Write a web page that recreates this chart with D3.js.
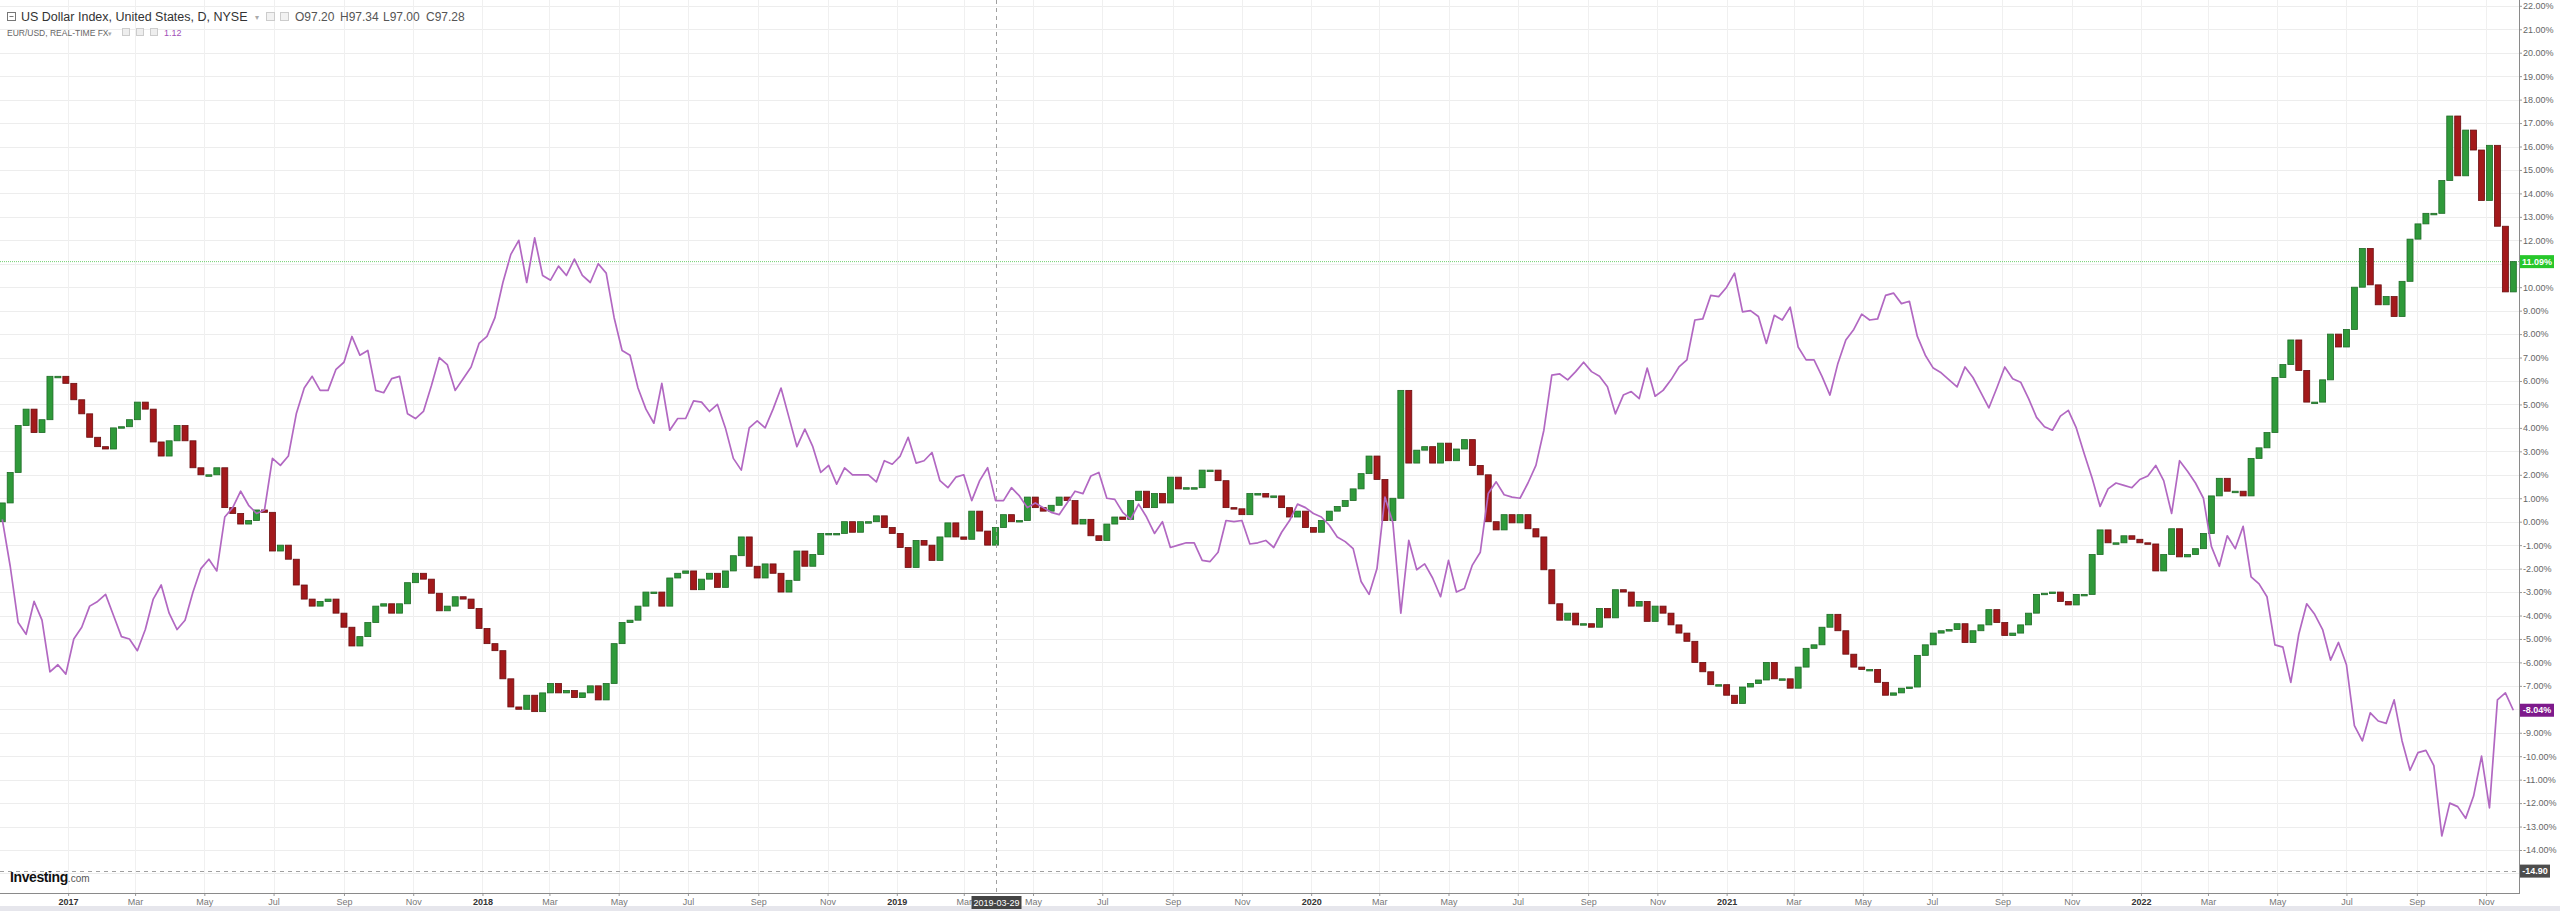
<!DOCTYPE html>
<html><head><meta charset="utf-8">
<script src="https://cdn.jsdelivr.net/npm/d3@7"></script>
<style>html,body{margin:0;padding:0;background:#fff;overflow:hidden}svg{display:block}</style>
</head><body>
<svg id="chart" width="2560" height="911"></svg>
<script>
// ---------------- DATA (weekly, % change from start) ----------------
const startDate = "2016-11-04";   // first weekly sample
const stepDays = 7;

const eurusdPct = [
 0.1,-1.9,-4.3,-4.8,-3.4,-4.2,-6.4,-6.1,-6.5,-5.0,
 -4.5,-3.6,-3.4,-3.1,-4.0,-4.9,-5.0,-5.5,-4.6,-3.3,
 -2.7,-3.9,-4.6,-4.2,-3.0,-2.0,-1.6,-2.1,0.2,0.6,
 1.3,0.7,0.35,0.5,2.7,2.4,2.8,4.6,5.7,6.2,
 5.6,5.6,6.5,6.8,7.9,7.1,7.3,5.6,5.5,6.1,
 6.2,4.6,4.4,4.7,5.8,7.0,6.7,5.6,6.1,6.6,
 7.6,7.9,8.7,10.2,11.4,12.0,10.2,12.1,10.5,10.3,
 10.9,10.5,11.2,10.5,10.2,11.0,10.6,8.7,7.3,7.1,
 5.7,4.8,4.2,5.9,3.9,4.4,4.4,5.15,5.1,4.7,
 5.0,4.0,2.7,2.2,4.0,4.3,4.0,4.8,5.7,4.45,
 3.2,3.95,3.2,2.1,2.4,1.6,2.3,2.0,2.0,2.0,
 1.7,2.6,2.45,2.8,3.6,2.5,2.6,2.95,1.75,1.45,
 1.9,2.0,0.9,1.75,2.3,0.9,0.9,1.45,1.1,0.6,
 0.8,0.6,0.4,0.3,0.8,1.3,1.2,1.95,2.1,1.0,
 0.95,0.4,0.1,0.75,0.2,-0.5,0.0,-1.1,-1.0,-0.9,
 -0.9,-1.65,-1.7,-1.3,0.05,0.0,0.05,-0.95,-0.9,-0.8,
 -1.1,-0.45,0.05,0.75,0.6,0.35,0.2,-0.15,-0.65,-0.85,
 -1.15,-2.55,-3.1,-2.0,1.05,-0.05,-3.9,-0.8,-2.05,-1.8,
 -2.4,-3.2,-1.65,-3.0,-2.85,-1.85,-1.3,1.2,1.7,1.15,
 1.05,1.0,1.65,2.4,3.9,6.25,6.3,6.05,6.4,6.8,
 6.4,6.2,5.75,4.6,5.4,5.55,5.25,6.55,5.35,5.6,
 6.05,6.6,6.9,8.6,8.65,9.65,9.6,10.0,10.6,8.95,
 9.0,8.75,7.6,8.8,8.6,9.15,7.45,6.9,6.9,6.2,
 5.4,6.75,7.75,8.2,8.85,8.6,8.65,9.65,9.75,9.3,
 9.4,7.9,7.1,6.55,6.35,6.05,5.75,6.6,6.15,5.5,
 4.85,5.7,6.6,6.1,5.95,5.25,4.45,4.05,3.9,4.5,
 4.75,4.0,2.9,1.85,0.65,1.4,1.65,1.55,1.45,1.8,
 1.95,2.4,1.75,0.35,2.6,2.15,1.65,1.0,-1.05,-1.9,
 -0.6,-1.15,-0.2,-2.35,-2.65,-3.2,-5.25,-5.35,-6.85,-4.8,
 -3.5,-3.95,-4.6,-5.9,-5.15,-6.1,-8.7,-9.35,-8.15,-8.5,
 -8.6,-7.6,-9.35,-10.6,-9.85,-9.75,-10.4,-13.4,-12.0,-12.15,
 -12.65,-11.7,-10.0,-12.2,-7.6,-7.3,-8.04
];

const dxyClosePct = [
 0.8,2.1,4.1,4.8,3.8,4.35,6.2,6.2,5.9,5.2,
 4.6,3.6,3.2,3.1,4.0,4.05,4.35,5.1,4.8,3.4,
 2.8,3.45,4.1,3.45,2.3,2.0,2.0,2.3,0.6,0.35,
 -0.1,0.05,0.5,0.4,-1.25,-1.0,-1.6,-2.7,-3.3,-3.6,
 -3.4,-3.3,-3.9,-4.5,-5.3,-4.9,-4.3,-3.6,-3.5,-3.9,
 -3.5,-2.6,-2.2,-2.45,-3.05,-3.8,-3.6,-3.2,-3.3,-3.7,
 -4.55,-5.2,-5.5,-6.7,-7.9,-8.0,-7.4,-8.1,-7.3,-6.9,
 -7.3,-7.2,-7.5,-7.3,-7.0,-7.6,-6.9,-5.2,-4.3,-4.2,
 -3.6,-3.0,-3.0,-3.6,-2.4,-2.2,-2.1,-2.9,-2.45,-2.2,
 -2.8,-2.1,-1.45,-0.65,-1.9,-2.4,-1.8,-2.2,-3.0,-2.5,
 -1.25,-1.9,-1.4,-0.5,-0.5,-0.5,0.0,-0.45,0.0,0.0,
 0.25,-0.25,-0.5,-1.1,-1.95,-0.8,-1.0,-1.65,-0.65,-0.05,
 -0.65,-0.75,0.45,-0.4,-1.0,-0.25,0.3,0.0,0.05,1.05,
 0.6,0.45,0.7,1.05,0.9,-0.1,0.1,-0.6,-0.8,-0.1,
 0.2,0.1,0.9,1.3,0.6,1.2,0.8,1.9,1.4,1.45,
 1.45,2.2,2.2,1.75,0.6,0.55,0.3,1.2,1.2,1.05,
 1.1,0.6,0.2,0.45,-0.25,-0.45,0.05,0.45,0.65,0.9,
 1.4,2.05,2.8,1.8,0.05,1.0,5.6,2.5,3.05,3.2,
 2.5,3.35,2.6,3.1,3.5,2.4,2.0,0.0,-0.35,0.3,
 -0.05,0.3,-0.3,-0.65,-2.05,-3.5,-4.2,-3.9,-4.4,-4.35,
 -4.5,-3.7,-4.1,-2.9,-3.0,-3.6,-3.4,-4.25,-3.6,-3.9,
 -4.4,-4.75,-5.1,-6.0,-6.4,-6.95,-6.95,-7.4,-7.75,-7.05,
 -6.9,-6.75,-6.0,-6.7,-6.7,-7.1,-6.2,-5.4,-5.25,-4.5,
 -3.95,-4.65,-5.65,-6.2,-6.3,-6.3,-6.85,-7.4,-7.3,-7.1,
 -7.05,-5.7,-5.25,-4.75,-4.65,-4.6,-4.35,-5.15,-4.65,-4.4,
 -3.75,-4.3,-4.85,-4.75,-4.4,-3.9,-3.1,-3.05,-3.0,-3.4,
 -3.55,-3.1,-3.1,-1.4,-0.35,-0.9,-0.9,-0.6,-0.75,-0.9,
 -0.95,-2.1,-1.4,-0.3,-1.5,-1.4,-1.15,-0.5,1.1,1.85,
 1.3,1.3,1.1,2.7,3.15,3.8,6.15,6.7,7.75,6.45,
 5.1,5.1,6.05,8.0,7.45,8.2,10.0,11.65,10.1,9.25,
 9.6,8.75,10.25,12.05,12.7,13.15,13.15,14.55,17.3,14.75,
 16.7,15.85,13.7,16.05,12.6,9.8,11.09
];

const gridValues = [-15,-14,-13,-12,-11,-10,-9,-8,-7,-6,-5,-4,-3,-2,-1,0,1,2,3,4,5,6,7,8,9,10,11,12,13,14,15,16,17,18,19,20,21,22];
const yTickValues = [-14,-13,-12,-11,-10,-9,-8,-7,-6,-5,-4,-3,-2,-1,0,1,2,3,4,5,6,7,8,9,10,11,12,13,14,15,16,17,18,19,20,21,22];
const lastDxy = 11.09, lastEur = -8.04;
const crossDate = "2019-03-29", crossValue = -14.90;
const legendMain = "US Dollar Index, United States, D, NYSE";
const legendOHLC = ["O97.20", "H97.34", "L97.00", "C97.28"];
const legendCompare = "EUR/USD, REAL-TIME FX";
const compareValue = "1.12";

// ---------------- CHART ----------------
const plotR = 2519, plotB = 893;
const svg = d3.select("#chart");
const FONT = "Arial, 'Liberation Sans', sans-serif";

const t0 = d3.utcParse("%Y-%m-%d")(startDate);
const dates = dxyClosePct.map((_, i) => d3.utcDay.offset(t0, i * stepDays));

const x = d3.scaleUtc().domain([Date.UTC(2016,10,2), Date.UTC(2022,10,30)]).range([0, plotR]);
const y = d3.scaleLinear().domain([-15, 22]).range([873.45, 5.8]);

svg.append("rect").attr("width",2560).attr("height",911).attr("fill","#fff");
svg.append("rect").attr("x",0).attr("y",906).attr("width",2560).attr("height",5).attr("fill","#e6e6ec");

const monthTicks = x.ticks(d3.utcMonth.every(2));

// gridlines
const grid = svg.append("g");
grid.selectAll("line.h").data(gridValues).join("line")
  .attr("x1",0).attr("x2",plotR).attr("y1",d=>Math.round(y(d))+0.5).attr("y2",d=>Math.round(y(d))+0.5)
  .attr("stroke","#ededed").attr("stroke-width",1);
grid.selectAll("line.v").data(monthTicks).join("line")
  .attr("x1",d=>Math.round(x(d))+0.5).attr("x2",d=>Math.round(x(d))+0.5).attr("y1",0).attr("y2",plotB)
  .attr("stroke","#f0f0f0").attr("stroke-width",1);

svg.append("clipPath").attr("id","clip").append("rect").attr("x",0).attr("y",0).attr("width",plotR).attr("height",plotB);
const plot = svg.append("g").attr("clip-path","url(#clip)");

// last-value green line
plot.append("line").attr("x1",0).attr("x2",plotR).attr("y1",y(lastDxy)).attr("y2",y(lastDxy))
  .attr("stroke","#6fcf6f").attr("stroke-width",1).attr("stroke-dasharray","1,1");

// crosshair
plot.append("line").attr("x1",0).attr("x2",plotR).attr("y1",Math.round(y(crossValue))+0.5).attr("y2",Math.round(y(crossValue))+0.5)
  .attr("stroke","#a0a0a0").attr("stroke-width",1).attr("stroke-dasharray","4,4");
const cx = Math.round(x(d3.utcParse("%Y-%m-%d")(crossDate)))+0.5;
svg.append("line").attr("x1",cx).attr("x2",cx).attr("y1",0).attr("y2",plotB)
  .attr("stroke","#a0a0a0").attr("stroke-width",1).attr("stroke-dasharray","4,4");

// candles (weekly: open = previous close)
const candles = dxyClosePct.map((c, i) => ({ d: dates[i], o: i === 0 ? 0 : dxyClosePct[i-1], c }));
const cw = 6;
plot.append("g").selectAll("rect").data(candles).join("rect")
  .attr("x", d => x(d.d) - cw/2)
  .attr("width", cw)
  .attr("y", d => y(Math.max(d.o, d.c)))
  .attr("height", d => Math.max(1.5, Math.abs(y(d.o) - y(d.c))))
  .attr("fill", d => d.c >= d.o ? "#2f9a3a" : "#a3191b")
  .attr("stroke", d => d.c >= d.o ? "#1e6b26" : "#6a0e10")
  .attr("stroke-width", 0.8);

// EUR/USD line
const line = d3.line().x((d,i) => x(dates[i])).y(d => y(d)).curve(d3.curveLinear);
plot.append("path").datum(eurusdPct).attr("d", line)
  .attr("fill","none").attr("stroke","#b268c2").attr("stroke-width",1.7).attr("stroke-linejoin","round");

// axes
const xAxis = d3.axisBottom(x).tickValues(monthTicks).tickSize(3).tickPadding(3)
  .tickFormat(d => d.getUTCMonth() === 0 ? d3.utcFormat("%Y")(d) : d3.utcFormat("%b")(d));
const gx = svg.append("g").attr("transform",`translate(0,${plotB})`).call(xAxis);
gx.select(".domain").remove();
gx.selectAll(".tick line").attr("stroke","#999");
gx.selectAll(".tick text").attr("font-family",FONT).attr("font-size",9)
  .attr("fill", d => d.getUTCMonth() === 0 ? "#333" : "#777")
  .attr("font-weight", d => d.getUTCMonth() === 0 ? "bold" : "normal");
svg.append("line").attr("x1",0).attr("x2",plotR).attr("y1",plotB+0.5).attr("y2",plotB+0.5).attr("stroke","#8a8a8a");

const yAxis = d3.axisRight(y).tickValues(yTickValues).tickSize(3).tickPadding(1).tickFormat(d => d.toFixed(2) + "%");
const gy = svg.append("g").attr("transform",`translate(${plotR},0)`).call(yAxis);
gy.select(".domain").remove();
gy.selectAll(".tick line").attr("stroke","#999");
gy.selectAll(".tick text").attr("font-family",FONT).attr("font-size",9).attr("fill","#666");
svg.append("line").attr("x1",plotR+0.5).attr("x2",plotR+0.5).attr("y1",0).attr("y2",plotB+1).attr("stroke","#8a8a8a");

// right tags
function tag(v, text, fill, w) {
  const yy = y(v);
  svg.append("rect").attr("x",plotR+1).attr("y",yy-6.5).attr("width",w).attr("height",13).attr("fill",fill);
  svg.append("text").attr("x",plotR+1+w/2).attr("y",yy+3.2).attr("text-anchor","middle")
    .attr("font-family",FONT).attr("font-size",9).attr("font-weight","bold").attr("fill","#fff").text(text);
}
tag(lastDxy, lastDxy.toFixed(2) + "%", "#27c72b", 34);
tag(lastEur, lastEur.toFixed(2) + "%", "#7e1a8c", 34);
tag(crossValue, crossValue.toFixed(2), "#4d4d4d", 30);

// bottom date tag
svg.append("rect").attr("x",cx-25).attr("y",896).attr("width",50).attr("height",13).attr("fill","#444");
svg.append("text").attr("x",cx).attr("y",906).attr("text-anchor","middle").attr("font-family",FONT)
  .attr("font-size",9).attr("fill","#fff").text(crossDate);

// legend
const lg = svg.append("g");
lg.append("rect").attr("x",7.5).attr("y",12.5).attr("width",8).attr("height",8).attr("fill","none").attr("stroke","#777");
lg.append("line").attr("x1",9.5).attr("x2",13.5).attr("y1",16.5).attr("y2",16.5).attr("stroke","#777");
lg.append("text").attr("x",21).attr("y",21).attr("font-family",FONT).attr("font-size",12.5).attr("fill","#333").text(legendMain);
lg.append("text").attr("x",255).attr("y",20).attr("font-family",FONT).attr("font-size",8).attr("fill","#aaa").text("▾");
[266, 280].forEach(xx => lg.append("rect").attr("x",xx+0.5).attr("y",12.5).attr("width",8).attr("height",8).attr("fill","#f2f2f2").attr("stroke","#ccc"));
[295, 340, 383, 426].forEach((xx, i) => lg.append("text").attr("x",xx).attr("y",21).attr("font-family",FONT)
  .attr("font-size",12).attr("fill","#555").text(legendOHLC[i]));
lg.append("text").attr("x",7).attr("y",36).attr("font-family",FONT).attr("font-size",8.5).attr("fill","#666").text(legendCompare);
lg.append("text").attr("x",108).attr("y",36).attr("font-family",FONT).attr("font-size",7).attr("fill","#aaa").text("▾");
[122, 136, 150].forEach(xx => lg.append("rect").attr("x",xx+0.5).attr("y",28.5).attr("width",7).attr("height",7).attr("fill","#eee").attr("stroke","#ccc"));
lg.append("text").attr("x",164).attr("y",36).attr("font-family",FONT).attr("font-size",9).attr("fill","#a24fb8").text(compareValue);

// logo
const logo = svg.append("text").attr("x",10).attr("y",882).attr("font-family",FONT);
logo.append("tspan").attr("font-size",14).attr("font-weight","bold").attr("fill","#111").attr("letter-spacing","-0.4").text("Investing");
logo.append("tspan").attr("font-size",10).attr("fill","#555").text(".com");
</script>
</body></html>
